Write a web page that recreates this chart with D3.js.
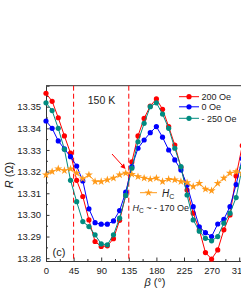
<!DOCTYPE html>
<html><head><meta charset="utf-8">
<script src="https://cdn.jsdelivr.net/npm/d3@7"></script>
<style>
html,body{margin:0;padding:0;background:#fff;}
svg{display:block;font-family:"Liberation Sans",Arial,sans-serif;}
</style></head>
<body><svg id="c" width="241" height="292"></svg>
<script>
const angles = [0,10,20,30,40,50,60,70,80,90,100,110,120,130,140,150,160,170,180,190,200,210,220,230,240,250,260,270,280,290,300,310,320,330];
const r200 = [13.3562,13.3525,13.3449,13.3365,13.3285,13.3160,13.3085,13.2977,13.2877,13.2854,13.2857,13.2890,13.2975,13.3090,13.3245,13.3365,13.3446,13.3503,13.3536,13.3488,13.3408,13.3323,13.3220,13.3115,13.3008,13.2931,13.2826,13.2796,13.2838,13.2931,13.3000,13.3180,13.3320,13.3420];
const r0 = [13.3434,13.3400,13.3342,13.3305,13.3269,13.3226,13.3157,13.3028,13.2964,13.2957,13.2957,13.2972,13.3020,13.3105,13.3223,13.3308,13.3346,13.3380,13.3408,13.3359,13.3300,13.3254,13.3208,13.3138,13.3038,13.2945,13.2918,13.2900,13.2958,13.2980,13.3038,13.3140,13.3260,13.3350];
const rm250 = [13.3518,13.3482,13.3400,13.3303,13.3160,13.3061,13.2969,13.2946,13.2908,13.2866,13.2862,13.2908,13.2985,13.3090,13.3216,13.3338,13.3423,13.3500,13.3518,13.3466,13.3400,13.3308,13.3223,13.3092,13.2977,13.2925,13.2892,13.2880,13.2900,13.2962,13.3008,13.3080,13.3220,13.3350];
const hc = [13.3185,13.3200,13.3213,13.3205,13.3213,13.3193,13.3167,13.3185,13.3154,13.3154,13.3162,13.3170,13.3185,13.3193,13.3188,13.3177,13.3170,13.3165,13.3170,13.3154,13.3165,13.3162,13.3154,13.3149,13.3131,13.3146,13.3119,13.3112,13.3146,13.3170,13.3193,13.3200,13.3193,13.3200];
const seriesNames = ["200 Oe","0 Oe","- 250 Oe"];
const xTicks = [0,45,90,135,180,225,270,315];
const yTicks = [13.28,13.29,13.30,13.31,13.32,13.33,13.34,13.35];
const dashedAt = [45,135];

const svg = d3.select("#c");
const L = 46, T = 85.7, B = 261;
const x = d3.scaleLinear().domain([0,360]).range([L, L + 360*0.6133]);
const y = d3.scaleLinear().domain([13.2787,13.3597]).range([B, T]);
const axisCol = "#333";

svg.append("line").attr("x1",L).attr("x2",241).attr("y1",T).attr("y2",T).attr("stroke",axisCol).attr("stroke-width",1);

const xa = svg.append("g").attr("transform",`translate(0,${B})`)
  .call(d3.axisBottom(x).tickValues(xTicks).tickSize(-3.5).tickPadding(6).tickFormat(d3.format("d")));
xa.select(".domain").attr("stroke",axisCol);
xa.selectAll(".tick line").attr("stroke",axisCol);
xa.selectAll("text").attr("font-size",9.5).attr("fill","#222").attr("font-family","Liberation Sans, Arial, sans-serif");
const xm = svg.append("g").attr("transform",`translate(0,${B})`)
  .call(d3.axisBottom(x).tickValues(xTicks.map(v=>v+22.5)).tickSize(-2).tickFormat(""));
xm.select(".domain").remove();
xm.selectAll(".tick line").attr("stroke",axisCol);

const ya = svg.append("g").attr("transform",`translate(${L},0)`)
  .call(d3.axisLeft(y).tickValues(yTicks).tickSize(-3.5).tickPadding(5).tickFormat(d3.format(".2f")));
ya.select(".domain").attr("stroke",axisCol);
ya.selectAll(".tick line").attr("stroke",axisCol);
ya.selectAll("text").attr("font-size",9.5).attr("fill","#222").attr("font-family","Liberation Sans, Arial, sans-serif");
const ym = svg.append("g").attr("transform",`translate(${L},0)`)
  .call(d3.axisLeft(y).tickValues(yTicks.map(v=>v+0.005)).tickSize(-2).tickFormat(""));
ym.select(".domain").remove();
ym.selectAll(".tick line").attr("stroke",axisCol);

dashedAt.forEach(a=>{
  svg.append("line").attr("x1",x(a)).attr("x2",x(a)).attr("y1",T).attr("y2",B)
    .attr("stroke","#ff0000").attr("stroke-width",1).attr("stroke-dasharray","5,3");
});

const series = [
  {name:seriesNames[0], vals:r200, color:"#ff0000"},
  {name:seriesNames[1], vals:r0, color:"#0000ff"},
  {name:seriesNames[2], vals:rm250, color:"#008b80"}
];
const line = d3.line().x((d,i)=>x(angles[i])).y(d=>y(d));
series.forEach(s=>{
  svg.append("path").attr("d",line(s.vals)).attr("fill","none").attr("stroke",s.color).attr("stroke-width",1);
  svg.append("g").selectAll("circle").data(s.vals).join("circle")
    .attr("cx",(d,i)=>x(angles[i])).attr("cy",d=>y(d)).attr("r",2.6).attr("fill",s.color);
});
const orange = "#ff9a1a";
svg.append("path").attr("d",line(hc)).attr("fill","none").attr("stroke",orange).attr("stroke-width",1);
const star = d3.symbol().type(d3.symbolStar).size(20);
svg.append("g").selectAll("path").data(hc).join("path")
  .attr("d",star).attr("transform",(d,i)=>`translate(${x(angles[i])},${y(d)})`).attr("fill",orange);

const lg = [[seriesNames[0],"#ff0000",96.7],[seriesNames[1],"#0000ff",106.8],[seriesNames[2],"#008b80",118.3]];
lg.forEach(([t,c,yy])=>{
  svg.append("line").attr("x1",179).attr("x2",199).attr("y1",yy).attr("y2",yy).attr("stroke",c).attr("stroke-width",1);
  svg.append("circle").attr("cx",189).attr("cy",yy).attr("r",2.6).attr("fill",c);
  svg.append("text").attr("x",201.5).attr("y",yy+3.3).attr("font-size",9).attr("fill","#222").text(t);
});
svg.append("line").attr("x1",140).attr("x2",157).attr("y1",192.7).attr("y2",192.7).attr("stroke",orange).attr("stroke-width",1);
svg.append("path").attr("d",star).attr("transform","translate(148.5,192.7)").attr("fill",orange);
const hcT = svg.append("text").attr("x",162).attr("y",196.5).attr("font-size",10).attr("fill","#222");
hcT.append("tspan").attr("font-style","italic").text("H");
hcT.append("tspan").attr("font-size",7).attr("dy",2).text("C");

const hcT2 = svg.append("text").attr("x",132.5).attr("y",210.5).attr("font-size",9).attr("fill","#222");
hcT2.append("tspan").attr("font-style","italic").text("H");
hcT2.append("tspan").attr("font-size",6.5).attr("dy",2).text("C");
hcT2.append("tspan").attr("dy",-2).text(" ~ - 170 Oe");

svg.append("text").attr("x",101.5).attr("y",103.5).attr("text-anchor","middle").attr("font-size",10.5).attr("fill","#222").text("150 K");
svg.append("text").attr("x",52.5).attr("y",256).attr("font-size",11).attr("fill","#222").text("(c)");

const ax1=112, ay1=154, ax2=125.5, ay2=169;
svg.append("line").attr("x1",ax1).attr("y1",ay1).attr("x2",ax2-2).attr("y2",ay2-2.3).attr("stroke","#ff0000").attr("stroke-width",1);
const ang = Math.atan2(ay2-ay1, ax2-ax1);
const hl=5, hw=2.5;
const p1=[ax2-hl*Math.cos(ang)+hw*Math.sin(ang), ay2-hl*Math.sin(ang)-hw*Math.cos(ang)];
const p2=[ax2-hl*Math.cos(ang)-hw*Math.sin(ang), ay2-hl*Math.sin(ang)+hw*Math.cos(ang)];
svg.append("path").attr("d",`M${ax2},${ay2}L${p1[0]},${p1[1]}L${p2[0]},${p2[1]}Z`).attr("fill","#ff0000");

const yl = svg.append("text").attr("transform","translate(13,175) rotate(-90)").attr("text-anchor","middle").attr("font-size",11).attr("fill","#222");
yl.append("tspan").attr("font-style","italic").text("R");
yl.append("tspan").text(" (Ω)");
const xl = svg.append("text").attr("x",155).attr("y",286).attr("text-anchor","middle").attr("font-size",11).attr("fill","#222");
xl.append("tspan").attr("font-style","italic").text("β");
xl.append("tspan").text(" (°)");
</script></body></html>
